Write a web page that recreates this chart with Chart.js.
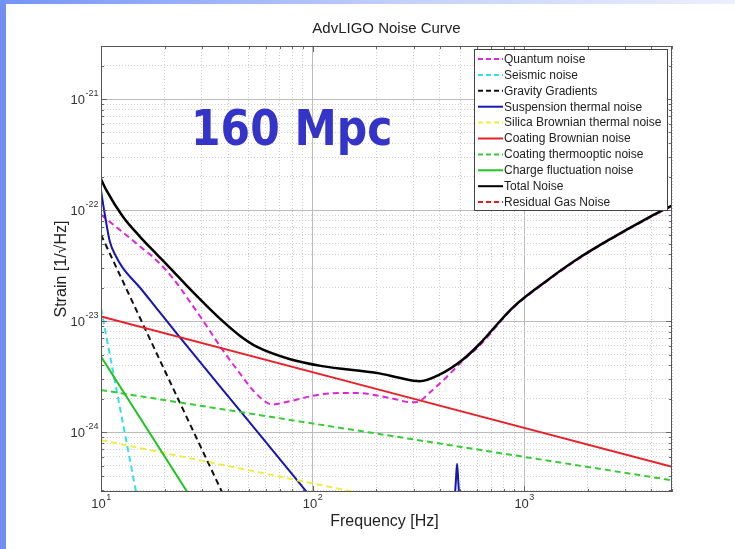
<!DOCTYPE html>
<html lang="en">
  <head>
    <meta charset="UTF-8" />
    <title>AdvLIGO Noise Curve</title>
    <style>
      html,
      body {
        margin: 0;
        padding: 0;
        background: #fff;
      }
      body {
        width: 735px;
        height: 549px;
        position: relative;
        overflow: hidden;
      }
      .edge-left {
        position: absolute;
        left: 0;
        top: 0;
        width: 6px;
        height: 549px;
        background: #6f8ef6;
      }
      .edge-top {
        position: absolute;
        left: 0;
        top: 0;
        width: 735px;
        height: 4px;
        background: linear-gradient(to right, #7394f6, #c3d0fa 55%, #eceffd);
      }
      #wrap {
        position: absolute;
        left: 0;
        top: 0;
        width: 735px;
        height: 549px;
      }
    </style>
    <script src="https://cdn.jsdelivr.net/npm/chart.js"></script>
  </head>
  <body>
    <div class="edge-left"></div>
    <div class="edge-top"></div>
    <div id="wrap"><canvas id="noiseChart" width="735" height="549"></canvas></div>

    <script>
      // frequency [Hz] / strain [1/sqrt(Hz)]
      const quantumF = [10, 12.7, 15.3, 18.4, 22, 26.3, 31.5, 37.6, 45.3, 54.4, 64.6, 77.7, 111, 161, 231, 296, 320, 356, 427, 512, 614, 881, 1270, 1815, 2600, 3760, 5000];
      const quantumH = [9.1e-23, 6.3e-23, 4.7e-23, 3.5e-23, 2.4e-23, 1.5e-23, 9.1e-24, 5.5e-24, 3.4e-24, 2.2e-24, 1.78e-24, 1.9e-24, 2.2e-24, 2.26e-24, 2.04e-24, 1.86e-24, 1.9e-24, 2.26e-24, 3.1e-24, 4.4e-24, 6.0e-24, 1.3e-23, 2.26e-23, 3.66e-23, 5.55e-23, 8.2e-23, 1.09e-22];

      const seismicF = [10, 16];
      const seismicH = [1.3e-23, 1.2e-25];

      const gravityF = [10, 20, 42];
      const gravityH = [6.0e-23, 3.6e-24, 1.8e-25];

      const suspensionF = [10, 10.45, 11, 11.8, 12.7, 15.3, 18.4, 23.6, 46.1, 86.9, 100, 300, 466, 476, 482, 488, 498];
      const suspensionH = [1.5e-22, 8.9e-23, 5.25e-23, 3.8e-23, 3.0e-23, 2.0e-23, 1.29e-23, 7.16e-24, 1.51e-24, 3.47e-25, 2.5e-25, null, 2.0e-25, 3.7e-25, 5.2e-25, 3.7e-25, 2.0e-25];

      const silicaF = [10, 200];
      const silicaH = [8.5e-25, 2.65e-25];

      const coatingF = [10, 5000];
      const coatingH = [1.1e-23, 4.9e-25];

      const thermoopticF = [10, 5000];
      const thermoopticH = [2.4e-24, 3.7e-25];

      const chargeF = [10, 30];
      const chargeH = [4.8e-24, 1.8e-25];

      const totalF = [10, 10.6, 12.7, 15.3, 18.4, 21.9, 26.3, 31.5, 37.6, 45.3, 54.4, 77.7, 111, 207, 257, 320, 398, 512, 614, 881, 1270, 1815, 2600, 3760, 5000];
      const totalH = [1.9e-22, 1.51e-22, 8.7e-23, 5.75e-23, 3.98e-23, 2.82e-23, 1.95e-23, 1.38e-23, 1.0e-23, 7.4e-24, 5.9e-24, 4.57e-24, 3.94e-24, 3.39e-24, 3.09e-24, 2.88e-24, 3.3e-24, 4.5e-24, 6.2e-24, 1.32e-23, 2.29e-23, 3.7e-23, 5.6e-23, 8.3e-23, 1.1e-22];

      const gasF = [10, 5000];
      const gasH = [2.0e-25, 1.6e-25];

      const seriesLabels = [
        "Quantum noise",
        "Seismic noise",
        "Gravity Gradients",
        "Suspension thermal noise",
        "Silica Brownian thermal noise",
        "Coating Brownian noise",
        "Coating thermooptic noise",
        "Charge fluctuation noise",
        "Total Noise",
        "Residual Gas Noise",
      ];

      const xTickExps = [1, 2, 3];
      const yTickExps = [-24, -23, -22, -21];

      const FONT = '"Liberation Sans", Arial, sans-serif';

      function pairs(fs, hs) {
        return fs.map((f, i) => ({ x: f, y: hs[i] }));
      }

      function isDecade(v) {
        const l = Math.log10(v);
        return Math.abs(l - Math.round(l)) < 1e-6;
      }

      function logTicks(scale, e0, e1) {
        const out = [];
        for (let e = e0; e <= e1; e++) {
          for (let m = 1; m <= 9; m++) {
            const v = m * Math.pow(10, e);
            if (v >= scale.min * 0.999 && v <= scale.max * 1.001) out.push({ value: v, major: m === 1 });
          }
        }
        scale.ticks = out;
      }

      const styles = [
        { color: "#e023e0", dash: [6, 4], width: 2 },
        { color: "#33e0e8", dash: [6, 4], width: 2 },
        { color: "#111111", dash: [6, 4], width: 2 },
        { color: "#1616b0", dash: [], width: 2 },
        { color: "#f0ee3a", dash: [6, 4], width: 2 },
        { color: "#e8202a", dash: [], width: 2 },
        { color: "#35cc35", dash: [6, 4], width: 2 },
        { color: "#22c422", dash: [], width: 2 },
        { color: "#000000", dash: [], width: 2.5 },
        { color: "#e02020", dash: [6, 4], width: 2 },
      ];

      const seriesData = [
        pairs(quantumF, quantumH),
        pairs(seismicF, seismicH),
        pairs(gravityF, gravityH),
        pairs(suspensionF, suspensionH),
        pairs(silicaF, silicaH),
        pairs(coatingF, coatingH),
        pairs(thermoopticF, thermoopticH),
        pairs(chargeF, chargeH),
        pairs(totalF, totalH),
        pairs(gasF, gasH),
      ];

      const datasets = seriesData.map((d, i) => ({
        label: seriesLabels[i],
        data: d,
        borderColor: styles[i].color,
        backgroundColor: styles[i].color,
        borderDash: styles[i].dash,
        borderWidth: styles[i].width,
        pointRadius: 0,
        cubicInterpolationMode: "monotone",
        order: seriesData.length - i, // later series on top, like matlab
      }));

      function drawPow(ctx, exp, xPos, yBase, align) {
        const base = "10";
        const sup = String(exp);
        ctx.font = "13px " + FONT;
        const wb = ctx.measureText(base).width;
        ctx.font = "9px " + FONT;
        const ws = ctx.measureText(sup).width;
        const left = align === "right" ? xPos - wb - ws : xPos - (wb + ws) / 2;
        ctx.textAlign = "left";
        ctx.textBaseline = "alphabetic";
        ctx.font = "13px " + FONT;
        ctx.fillText(base, left, yBase);
        ctx.font = "9px " + FONT;
        ctx.fillText(sup, left + wb + 0.5, yBase - 8);
      }

      const decorations = {
        id: "decorations",
        afterDraw(chart) {
          const { ctx, chartArea: a } = chart;
          const x = chart.scales.x;
          const y = chart.scales.y;
          ctx.save();

          // inward tick marks on all four sides
          ctx.strokeStyle = "#666";
          ctx.lineWidth = 1;
          ctx.beginPath();
          x.ticks.forEach((t) => {
            const px = Math.round(x.getPixelForValue(t.value)) + 0.5;
            const len = isDecade(t.value) ? 6 : 3;
            ctx.moveTo(px, a.bottom);
            ctx.lineTo(px, a.bottom - len);
            ctx.moveTo(px, a.top);
            ctx.lineTo(px, a.top + len);
          });
          y.ticks.forEach((t) => {
            const py = Math.round(y.getPixelForValue(t.value)) + 0.5;
            const len = isDecade(t.value) ? 6 : 3;
            ctx.moveTo(a.left, py);
            ctx.lineTo(a.left + len, py);
            ctx.moveTo(a.right, py);
            ctx.lineTo(a.right - len, py);
          });
          ctx.stroke();

          // axes box
          ctx.strokeStyle = "#555";
          ctx.strokeRect(a.left + 0.5, a.top + 0.5, a.right - a.left - 1, a.bottom - a.top - 1);

          // tick labels
          ctx.fillStyle = "#333";
          xTickExps.forEach((e) => {
            drawPow(ctx, e, x.getPixelForValue(Math.pow(10, e)), a.bottom + 16, "center");
          });
          yTickExps.forEach((e) => {
            drawPow(ctx, e, a.left - 3, y.getPixelForValue(Math.pow(10, e)) + 5, "right");
          });

          // titles
          ctx.fillStyle = "#222";
          ctx.textAlign = "center";
          ctx.textBaseline = "middle";
          ctx.font = "15px " + FONT;
          ctx.fillText("AdvLIGO Noise Curve", (a.left + a.right) / 2, 29);
          ctx.font = "16px " + FONT;
          ctx.fillText("Frequency [Hz]", (a.left + a.right) / 2 - 2, 522);
          ctx.save();
          ctx.translate(62, (a.top + a.bottom) / 2);
          ctx.rotate(-Math.PI / 2);
          ctx.font = "16px " + FONT;
          ctx.fillText("Strain [1/\u221AHz]", 0, 0);
          ctx.restore();

          // legend box
          const lx = 474, ly = 49, lw = 193, lh = 161;
          ctx.fillStyle = "#fff";
          ctx.fillRect(lx, ly, lw, lh);
          ctx.strokeStyle = "#444";
          ctx.strokeRect(lx + 0.5, ly + 0.5, lw, lh);
          ctx.font = "12px " + FONT;
          ctx.textAlign = "left";
          ctx.textBaseline = "middle";
          chart.data.datasets.forEach((ds, i) => {
            const ry = ly + 10 + i * 15.9;
            ctx.strokeStyle = ds.borderColor;
            ctx.lineWidth = 2;
            ctx.setLineDash(ds.borderDash.length ? [5, 3] : []);
            ctx.beginPath();
            ctx.moveTo(lx + 4, ry);
            ctx.lineTo(lx + 29, ry);
            ctx.stroke();
            ctx.setLineDash([]);
            ctx.fillStyle = "#222";
            ctx.fillText(ds.label, lx + 30, ry + 0.5);
          });

          // range annotation
          ctx.save();
          ctx.fillStyle = "#3434c8";
          ctx.font = "bold 50px 'DejaVu Sans', sans-serif";
          ctx.textAlign = "left";
          ctx.textBaseline = "alphabetic";
          ctx.translate(191, 145);
          ctx.scale(0.85, 1);
          ctx.fillText("160 Mpc", 0, 0);
          ctx.restore();

          ctx.restore();
        },
      };

      const gridColor = (c) => (c.tick && isDecade(c.tick.value) ? "#bcbcbc" : "#cfcfcf");
      const gridDash = (c) => (c.tick && !isDecade(c.tick.value) ? [1, 2] : []);

      new Chart(document.getElementById("noiseChart"), {
        type: "line",
        data: { datasets },
        options: {
          responsive: false,
          animation: false,
          layout: { padding: { left: 101, right: 63, top: 46, bottom: 57 } },
          plugins: {
            legend: { display: false },
            title: { display: false },
            tooltip: { enabled: false },
          },
          scales: {
            x: {
              type: "logarithmic",
              min: 10,
              max: 5000,
              bounds: "data",
              afterBuildTicks: (s) => logTicks(s, 1, 3),
              ticks: { display: false, autoSkip: false },
              grid: { color: gridColor, lineWidth: 1, drawTicks: false },
              border: { display: false, dash: gridDash },
            },
            y: {
              type: "logarithmic",
              min: 2.9e-25,
              max: 3e-21,
              bounds: "data",
              afterBuildTicks: (s) => logTicks(s, -25, -21),
              ticks: { display: false, autoSkip: false },
              grid: { color: gridColor, lineWidth: 1, drawTicks: false },
              border: { display: false, dash: gridDash },
            },
          },
        },
        plugins: [decorations],
      });
    </script>
  </body>
</html>
